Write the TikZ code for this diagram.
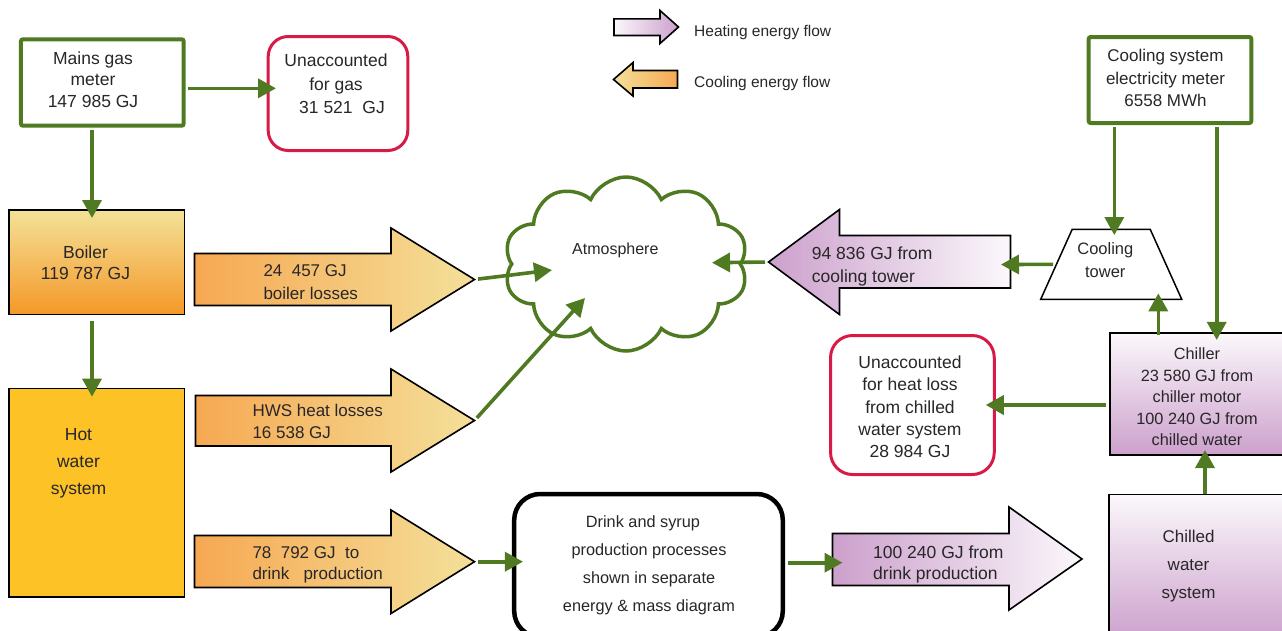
\documentclass[tikz,border=0pt]{standalone}
\usepackage{fontspec}
\setmainfont{Liberation Sans}
\usetikzlibrary{arrows.meta,shapes.geometric,shapes.symbols}
\definecolor{flowgreen}{RGB}{79,122,33}
\definecolor{lossred}{RGB}{214,27,71}
\definecolor{ink}{RGB}{40,38,40}
\definecolor{coolorange}{RGB}{246,168,82}
\definecolor{coolyellow}{RGB}{244,224,154}
\definecolor{heatpurple}{RGB}{204,160,204}
\definecolor{heatwhite}{RGB}{251,248,251}
\definecolor{boilertop}{RGB}{243,226,152}
\definecolor{boilerbottom}{RGB}{245,152,40}
\definecolor{hwsfill}{RGB}{253,195,38}
\newcommand\fsz[2]{\fontsize{#1}{#2}\selectfont}

\begin{document}
\begin{tikzpicture}[x=1pt,y=-1pt,
  flow/.style={draw=flowgreen, line width=3.6pt, -{Triangle[length=18pt,width=19pt]}},
  greenbox/.style={rectangle, draw=flowgreen, line width=4pt, rounded corners=2pt, inner sep=0pt},
  redbox/.style={rectangle, draw=lossred, line width=3pt, rounded corners=20pt, inner sep=0pt},
  plainbox/.style={rectangle, draw=black, line width=1.5pt, inner sep=0pt},
  coolflow/.style={draw=black, line width=1.6pt, line join=miter, left color=coolorange, right color=coolyellow},
  lbl/.style={text=ink, inner sep=0pt, align=center, yshift=-3.8pt,
    execute at begin node=\strut, execute at end node=\strut},
]
\useasboundingbox (0,0) rectangle (1282,630);

% ---------- boxes ----------
\node[greenbox, minimum width=162.7pt, minimum height=86.4pt] (mains) at (102.3,82.5) {};
\node[redbox, minimum width=139.6pt, minimum height=114pt] (ungas) at (338,93.5) {};
\node[plainbox, minimum width=175.2pt, minimum height=104.5pt,
      top color=boilertop, bottom color=boilerbottom] (boiler) at (96.7,262) {};
\node[plainbox, minimum width=175.2pt, minimum height=208.8pt, fill=hwsfill] (hws) at (96.7,492.8) {};
\node[rectangle, draw=black, line width=4.5pt, rounded corners=26pt, inner sep=0pt,
      minimum width=268.6pt, minimum height=143pt] (dbox) at (648.5,565.5) {};
\node[plainbox, minimum width=187pt, minimum height=146pt,
      top color=heatwhite, bottom color=heatpurple] (chilled) at (1202.5,567.7) {};
\node[plainbox, minimum width=186pt, minimum height=122pt,
      top color=heatwhite, bottom color=heatpurple] (chiller) at (1203,394) {};
\node[redbox, rounded corners=22pt, minimum width=163.7pt, minimum height=139pt] (unheat) at (912.4,405) {};
\node[greenbox, minimum width=162.6pt, minimum height=86pt] (meter) at (1170,80) {};
\node[trapezium, trapezium left angle=68, trapezium right angle=68, trapezium stretches=true,
      draw=black, line width=1.5pt, inner sep=5pt, minimum width=141pt, minimum height=70pt] (tower) at (1111.2,264.3) {};
\node[cloud, cloud puffs=10, cloud puff arc=130, draw=flowgreen, line width=3.5pt, inner sep=5pt,
      minimum width=244pt, minimum height=174pt] (atm) at (626,264) {};

% ---------- block arrows: heat leaving the hot-water side ----------
\path[coolflow] (194.5,253.5) -- (391,253.5) -- (391,228) -- (474.5,279.5) -- (391,331) -- (391,305.5) -- (194.5,305.5) -- cycle;
\coordinate (blossTip) at (474.5,279.5);
\path[coolflow] (195.5,395.5) -- (391,395.5) -- (391,369) -- (474.5,420.5) -- (391,472) -- (391,446) -- (195.5,446) -- cycle;
\coordinate (hwslossTip) at (474.5,420.5);
\path[coolflow] (194.5,535.5) -- (391,535.5) -- (391,510) -- (474.5,561.7) -- (391,613.5) -- (391,587.5) -- (194.5,587.5) -- cycle;
\coordinate (drinkTip) at (474.5,561.7);

% ---------- block arrows: heat on the chilled-water side ----------
\path[draw=black, line width=1.6pt, line join=miter, left color=heatpurple, right color=heatwhite]
  (832.5,533.5) -- (1009,533.5) -- (1009,507) -- (1082,559) -- (1009,610) -- (1009,585.5) -- (832.5,585.5) -- cycle;
\coordinate (heatTail) at (832.5,562.7);
\path[draw=black, line width=1.6pt, line join=miter, left color=heatpurple, right color=heatwhite]
  (768.5,262) -- (839.5,209.5) -- (839.5,235.5) -- (1010.5,235.5) -- (1010.5,288) -- (839.5,288) -- (839.5,314.5) -- cycle;
\coordinate (ctTip) at (768.5,262);
\coordinate (ctTail) at (1010.5,264.5);

% ---------- legend ----------
\path[draw=black, line width=1.6pt, line join=miter, left color=heatwhite, right color=heatpurple]
  (614,18.8) -- (660,18.8) -- (660,10.5) -- (678.5,27) -- (660,43.5) -- (660,35.5) -- (614,35.5) -- cycle;
\path[draw=black, line width=1.6pt, line join=miter, left color=coolyellow, right color=coolorange]
  (613.5,79.5) -- (633,62.5) -- (633,70.5) -- (677.5,70.5) -- (677.5,88) -- (633,88) -- (633,96) -- cycle;
\node[lbl, font=\fsz{15.5}{18}, anchor=west] (legHeatT) at (694,29.3) {Heating energy flow};
\node[lbl, font=\fsz{15.5}{18}, anchor=west] (legCoolT) at (694,80) {Cooling energy flow};

% ---------- labels ----------
\node[lbl, font=\fsz{17.5}{21.7}] (mainsT) at (93,79) {Mains gas\\meter\\147 985 GJ};
\node[lbl, font=\fsz{17.5}{23.7}] (ungasT) at (336,83.7) {Unaccounted\\for gas\\\hspace*{12pt}31 521~~GJ};
\node[lbl, font=\fsz{17.5}{21.3}] (boilerT) at (85.5,262.3) {Boiler\\119 787 GJ};
\node[lbl, font=\fsz{17.5}{27}] (hwsT) at (78.5,462) {Hot\\water\\system};
\node[lbl, font=\fsz{17}{23.3}, align=left, anchor=west] (blossT) at (263.3,281.7) {24~ 457 GJ\\boiler losses};
\node[lbl, font=\fsz{17}{22.3}, align=left, anchor=west] (hwslossT) at (252.3,421.2) {HWS heat losses\\16 538 GJ};
\node[lbl, font=\fsz{17}{21.7}, align=left, anchor=west] (drinkT) at (252.3,562.5) {78~ 792 GJ~ to\\drink~~ production};
\node[lbl, font=\fsz{16}{20}] (atmT) at (615.3,246.7) {Atmosphere};
\node[lbl, font=\fsz{16.3}{28}] (dboxT) at (649,564) {Drink and syrup\hspace*{12pt}\\production processes\\shown in separate\\energy \& mass diagram};
\node[lbl, font=\fsz{17.5}{21.3}, align=left, anchor=west] (heatT) at (873,562.3) {100 240 GJ from\\drink production};
\node[lbl, font=\fsz{17}{28.2}] (chilledT) at (1188.5,564.8) {Chilled\\water\\system};
\node[lbl, font=\fsz{16.3}{21.5}] (chillerT) at (1197,396.3) {Chiller\\23 580 GJ from\\chiller motor\\100 240 GJ from\\chilled water};
\node[lbl, font=\fsz{17.5}{22.25}] (unheatT) at (910,406.2) {Unaccounted\\for heat loss\\from chilled\\water system\\28 984 GJ};
\node[lbl, font=\fsz{16.5}{23.3}] (towerT) at (1105.3,260) {Cooling\\tower};
\node[lbl, font=\fsz{17.5}{23.3}, align=left, anchor=west] (ctT) at (811.7,264.3) {94 836 GJ from\\cooling tower};
\node[lbl, font=\fsz{17}{22.5}] (meterT) at (1165.5,77.5) {Cooling system\\electricity meter\\6558 MWh};

% ---------- points inside the atmosphere cloud ----------
\coordinate (atmA) at ([shift={(-74,6)}]atm.center);
\coordinate (atmB) at ([shift={(-41,34)}]atm.center);
\coordinate (atmC) at ([shift={(86,-1.3)}]atm.center);

% ---------- connectors ----------
\draw[flow, shorten <=2.3pt, shorten >=-9.3pt] (mains.east |- 0,88.3) -- (ungas.west |- 0,88.3);
\draw[flow, shorten <=2.3pt, shorten >=-9pt] (mains.south -| 92,0) -- (boiler.north -| 92,0);
\draw[flow, shorten <=5.7pt, shorten >=-9pt] (boiler.south -| 92,0) -- (hws.north -| 92,0);
\draw[flow, shorten <=3.5pt] (blossTip) -- (atmA);
\draw[flow, shorten <=3.5pt] (hwslossTip) -- (atmB);
\draw[flow, shorten <=3.5pt, shorten >=-11pt] (drinkTip) -- (dbox.west |- drinkTip);
\draw[flow, shorten <=3pt, shorten >=-10pt] (dbox.east |- heatTail) -- (heatTail);
\draw[flow, shorten >=-5.7pt] (chilled.north -| 1205,0) -- (chiller.south -| 1205,0);
\draw[flow, shorten <=3.3pt, shorten >=-10pt] (chiller.west |- unheat.east) -- (unheat.east);
\draw[flow, shorten <=-2.3pt, shorten >=-6.7pt] (chiller.north -| 1158.3,0) -- (tower.south -| 1158.3,0);
\draw[flow, shorten <=2pt, shorten >=-6.5pt] (meter.south -| 1114.3,0) -- (tower.north -| 1114.3,0);
\draw[flow, shorten <=2pt, shorten >=-7.7pt] (meter.south -| 1216.7,0) -- (chiller.north -| 1216.7,0);
\draw[flow, shorten <=2.5pt, shorten >=-9.5pt] (tower.west) -- (ctTail);
\draw[flow, shorten <=3.5pt] (ctTip) -- (atmC);
\end{tikzpicture}
\end{document}
